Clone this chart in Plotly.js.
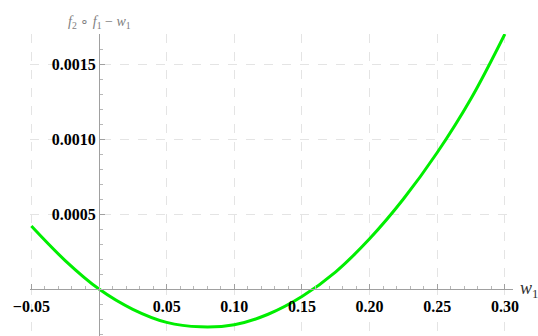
<!DOCTYPE html>
<html>
<head>
<meta charset="utf-8">
<script src="https://cdn.plot.ly/plotly-3.0.1.min.js"></script>
<style>html,body{margin:0;padding:0;background:#fff;}#chart{width:538px;height:336px;}</style>
</head>
<body>
<div id="chart"></div>
<script>
// values
const wValues = [-0.05, -0.025, 0, 0.025, 0.05, 0.075, 0.10, 0.125, 0.15, 0.175, 0.20, 0.225, 0.25, 0.275, 0.30];
const fValues = [0.00042, 0.00019, 0, -0.000135, -0.000222, -0.000252, -0.000238, -0.000168, -0.00005, 0.000115, 0.000335, 0.0006, 0.00091, 0.00127, 0.0017];
const xTickVals = [-0.05, 0.05, 0.10, 0.15, 0.20, 0.25, 0.30];
const xTickText = ["\u22120.05", "0.05", "0.10", "0.15", "0.20", "0.25", "0.30"];
const yTickVals = [0.0005, 0.0010, 0.0015];
const yTickText = ["0.0005", "0.0010", "0.0015"];

const xRange = [-0.051, 0.306];
const yRange = [-0.000313, 0.0017];
const xAxisPos = (0 - yRange[0]) / (yRange[1] - yRange[0]);
const yAxisPos = (0 - xRange[0]) / (xRange[1] - xRange[0]);

const tickFont = {family: "Liberation Serif, Times New Roman, serif", size: 16, color: "#000", weight: "bold"};

const trace = {
  x: wValues, y: fValues, type: "scatter", mode: "lines",
  line: {color: "#00ee00", width: 3, shape: "spline", smoothing: 1},
  hoverinfo: "skip"
};

const layout = {
  width: 538, height: 336,
  margin: {l: 30, r: 25, t: 34, b: 0},
  paper_bgcolor: "#fff", plot_bgcolor: "#fff",
  showlegend: false,
  xaxis: {
    range: xRange, anchor: "free", position: xAxisPos,
    showline: true, linecolor: "#a0a0a0", linewidth: 1,
    zeroline: false,
    tickmode: "array", tickvals: xTickVals, ticktext: xTickText,
    ticks: "inside", ticklen: 5, tickcolor: "#a0a0a0", tickwidth: 1,
    tickfont: tickFont, ticklabelstandoff: 3,
    showgrid: true, gridcolor: "#e4e4e4", griddash: "dash", gridwidth: 1,
    minor: {tick0: 0, dtick: 0.01, ticks: "inside", ticklen: 3, tickcolor: "#b8b8b8", showgrid: false}
  },
  yaxis: {
    range: yRange, anchor: "free", position: yAxisPos,
    showline: true, linecolor: "#a0a0a0", linewidth: 1,
    zeroline: false,
    tickmode: "array", tickvals: yTickVals, ticktext: yTickText,
    ticks: "inside", ticklen: 5, tickcolor: "#a0a0a0", tickwidth: 1,
    tickfont: tickFont,
    showgrid: true, gridcolor: "#e4e4e4", griddash: "dash", gridwidth: 1,
    minor: {tick0: 0, dtick: 0.0001, ticks: "inside", ticklen: 3, tickcolor: "#b8b8b8", showgrid: false}
  },
  annotations: [
    {
      text: "<i>f</i><sub>2</sub> \u2218 <i>f</i><sub>1</sub> \u2212 <i>w</i><sub>1</sub>",
      xref: "x", yref: "paper", x: 0, y: 1, xanchor: "center", yanchor: "bottom",
      yshift: 1, showarrow: false,
      font: {family: "Liberation Serif, Times New Roman, serif", size: 14, color: "#808080"}
    },
    {
      text: "<i>w</i><sub>1</sub>",
      xref: "paper", yref: "y", x: 1, y: 0, xanchor: "left", yanchor: "middle",
      xshift: 5, showarrow: false,
      font: {family: "Liberation Serif, Times New Roman, serif", size: 18, color: "#333"}
    }
  ]
};

Plotly.newPlot("chart", [trace], layout, {staticPlot: true, displayModeBar: false});
</script>
</body>
</html>
